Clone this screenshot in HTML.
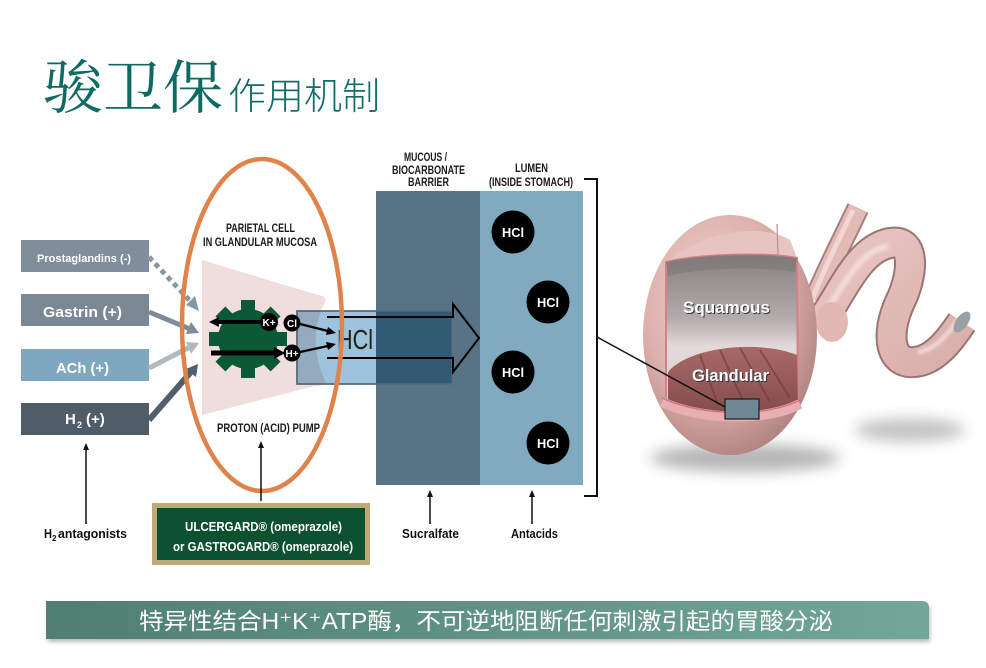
<!DOCTYPE html>
<html><head><meta charset="utf-8"><style>
html,body{margin:0;padding:0;background:#fff;}
svg{display:block;}
.c{font-family:"Liberation Sans",sans-serif;font-weight:bold;}
</style></head><body>
<svg width="986" height="668" viewBox="0 0 986 668" xmlns="http://www.w3.org/2000/svg">
<defs>
<radialGradient id="sb" cx="0.4" cy="0.35" r="0.68">
<stop offset="0" stop-color="#efd2ce"/><stop offset="0.6" stop-color="#ddb0ac"/><stop offset="1" stop-color="#b08482"/>
</radialGradient>
<linearGradient id="inner" x1="0" y1="0" x2="0" y2="1">
<stop offset="0" stop-color="#858080"/><stop offset="0.4" stop-color="#b3abab"/><stop offset="0.58" stop-color="#e2dada"/><stop offset="1" stop-color="#d6caca"/>
</linearGradient>
<linearGradient id="gl" x1="0" y1="0" x2="0" y2="1">
<stop offset="0" stop-color="#a86a68"/><stop offset="1" stop-color="#844c4c"/>
</linearGradient>
<linearGradient id="tube" x1="0" y1="0" x2="1" y2="1">
<stop offset="0" stop-color="#e9c6c2"/><stop offset="1" stop-color="#d9aeaa"/>
</linearGradient>
<linearGradient id="ban" x1="0" y1="0" x2="1" y2="0">
<stop offset="0" stop-color="#4f7f72"/><stop offset="1" stop-color="#72a797"/>
</linearGradient>
<filter id="bl" x="-50%" y="-50%" width="200%" height="200%"><feGaussianBlur stdDeviation="7"/></filter>
<filter id="bl3" x="-50%" y="-50%" width="200%" height="200%"><feGaussianBlur stdDeviation="1.5"/></filter>
<filter id="bl2" x="-10%" y="-50%" width="120%" height="200%"><feGaussianBlur stdDeviation="2"/></filter>
</defs>

<!-- Title -->
<text x="43" y="108" font-family="'Noto Serif CJK SC',serif" font-size="58" fill="#0f6a64" textLength="180" lengthAdjust="spacingAndGlyphs">骏卫保</text>
<text x="228" y="109" font-family="'Noto Sans CJK SC',sans-serif" font-weight="300" font-size="37" fill="#136d67" textLength="152" lengthAdjust="spacingAndGlyphs">作用机制</text>

<!-- Left boxes -->
<rect x="21" y="240" width="128" height="32" fill="#808e9c"/>
<text class="c" x="37" y="262" font-size="11" fill="#fff" textLength="94" lengthAdjust="spacingAndGlyphs">Prostaglandins (-)</text>
<rect x="21" y="294" width="128" height="32" fill="#7b8794"/>
<text class="c" x="43" y="317" font-size="15" fill="#fff" textLength="79" lengthAdjust="spacingAndGlyphs">Gastrin (+)</text>
<rect x="21" y="349" width="128" height="32" fill="#7fa7bf"/>
<text class="c" x="56" y="373" font-size="15" fill="#fff" textLength="53" lengthAdjust="spacingAndGlyphs">ACh (+)</text>
<rect x="21" y="403" width="128" height="32" fill="#4f5d69"/>
<text class="c" x="65" y="424" font-size="15" fill="#fff">H</text>
<text class="c" x="77" y="428" font-size="9" fill="#fff">2</text>
<text class="c" x="86" y="424" font-size="15" fill="#fff">(+)</text>

<!-- stimulation arrows -->
<line x1="149" y1="257" x2="191" y2="302" stroke="#8a96a2" stroke-width="5" stroke-dasharray="5,4"/>
<path d="M199,311 L186,305 L195,296 z" fill="#8a96a2"/>
<line x1="149" y1="312" x2="190" y2="329" stroke="#7e8a97" stroke-width="5"/>
<path d="M199,333 L186,334 L191,322 z" fill="#7e8a97"/>
<line x1="149" y1="368" x2="190" y2="347" stroke="#b0b9c0" stroke-width="5"/>
<path d="M199,343 L191,354 L186,342 z" fill="#b0b9c0"/>
<line x1="149" y1="420" x2="191" y2="372" stroke="#505f6b" stroke-width="6"/>
<path d="M198,364 L196,377 L186,369 z" fill="#505f6b"/>

<!-- pink cell -->
<path d="M202,260 L318,295 Q328,297 325,302 Q306,340 326,383 Q322,386 315,386 L202,415 Z" fill="#f0dede"/>

<!-- gear -->
<g transform="translate(248,339)" fill="#0c5a35">
<circle r="30"/>
<rect x="-7" y="-39" width="14" height="78"/>
<rect x="-7" y="-39" width="14" height="78" transform="rotate(45)"/>
<rect x="-7" y="-39" width="14" height="78" transform="rotate(90)"/>
<rect x="-7" y="-39" width="14" height="78" transform="rotate(135)"/>
</g>
<line x1="262" y1="322" x2="217" y2="322" stroke="#000" stroke-width="4"/>
<path d="M209,322 L219,317 L219,327 z" fill="#000"/>
<line x1="211" y1="353" x2="276" y2="353" stroke="#000" stroke-width="5"/>
<path d="M285,353 L274,347 L274,359 z" fill="#000"/>
<circle cx="269" cy="322" r="9" fill="#000"/>
<text class="c" x="269" y="326" font-size="10" fill="#fff" text-anchor="middle">K+</text>

<!-- HCl box (multiply) -->
<rect x="297" y="311" width="155" height="73" fill="#9dc3dc" stroke="#56697a" stroke-width="1.5" style="mix-blend-mode:multiply"/>

<!-- barrier & lumen -->
<rect x="376" y="191" width="104" height="294" fill="#587386"/>
<rect x="480" y="191" width="103" height="294" fill="#81a9bf"/>
<rect x="376" y="311" width="76" height="73" fill="#335a74"/>
<rect x="297" y="311" width="155" height="73" fill="none" stroke="#56697a" stroke-width="1.5"/>

<circle cx="292" cy="323" r="8.5" fill="#000"/>
<text class="c" x="292" y="327" font-size="10" fill="#fff" text-anchor="middle">Cl</text>
<circle cx="292" cy="353" r="8.5" fill="#000"/>
<text class="c" x="292" y="357" font-size="10" fill="#fff" text-anchor="middle">H+</text>
<line x1="300" y1="324" x2="328" y2="331" stroke="#000" stroke-width="2.2"/>
<path d="M336,333 L326,335 L328,327 z" fill="#000"/>
<line x1="300" y1="352" x2="328" y2="346" stroke="#000" stroke-width="2.2"/>
<path d="M336,344 L328,350 L326,342 z" fill="#000"/>
<text x="337" y="349" font-family="'Liberation Sans',sans-serif" font-size="28" fill="#22200f" textLength="36" lengthAdjust="spacingAndGlyphs">HCl</text>
<path d="M327,317 L453,317 L453,304 L479,338 L453,372 L453,358 L327,358" fill="none" stroke="#000" stroke-width="2"/>

<!-- orange ellipse -->
<ellipse cx="262" cy="325" rx="80" ry="166" fill="none" stroke="#e0834a" stroke-width="4.5"/>

<!-- cell labels -->
<text class="c" x="226" y="232" font-size="12" fill="#1a1a1a" textLength="69" lengthAdjust="spacingAndGlyphs">PARIETAL CELL</text>
<text class="c" x="203" y="246" font-size="12" fill="#1a1a1a" textLength="114" lengthAdjust="spacingAndGlyphs">IN GLANDULAR MUCOSA</text>
<text class="c" x="217" y="432" font-size="12" fill="#1a1a1a" textLength="103" lengthAdjust="spacingAndGlyphs">PROTON (ACID) PUMP</text>

<text class="c" x="404" y="161" font-size="12" fill="#1a1a1a" textLength="43" lengthAdjust="spacingAndGlyphs">MUCOUS /</text>
<text class="c" x="392" y="174" font-size="12" fill="#1a1a1a" textLength="73" lengthAdjust="spacingAndGlyphs">BIOCARBONATE</text>
<text class="c" x="408" y="186" font-size="12" fill="#1a1a1a" textLength="41" lengthAdjust="spacingAndGlyphs">BARRIER</text>
<text class="c" x="515" y="172" font-size="12" fill="#1a1a1a" textLength="33" lengthAdjust="spacingAndGlyphs">LUMEN</text>
<text class="c" x="489" y="186" font-size="12" fill="#1a1a1a" textLength="84" lengthAdjust="spacingAndGlyphs">(INSIDE STOMACH)</text>

<!-- lumen HCl circles -->
<g class="c" font-size="13" fill="#fff" text-anchor="middle">
<circle cx="513" cy="232" r="21.5" fill="#000"/><text x="513" y="237" textLength="22" lengthAdjust="spacingAndGlyphs">HCl</text>
<circle cx="548" cy="302" r="21.5" fill="#000"/><text x="548" y="307" textLength="22" lengthAdjust="spacingAndGlyphs">HCl</text>
<circle cx="513" cy="372" r="21.5" fill="#000"/><text x="513" y="377" textLength="22" lengthAdjust="spacingAndGlyphs">HCl</text>
<circle cx="548" cy="443" r="21.5" fill="#000"/><text x="548" y="448" textLength="22" lengthAdjust="spacingAndGlyphs">HCl</text>
</g>

<!-- bracket -->
<path d="M584,179 L597,179 L597,496 L584,496" fill="none" stroke="#111" stroke-width="2"/>

<!-- stomach shadows -->
<ellipse cx="745" cy="458" rx="95" ry="14" fill="#7a7a7a" opacity="0.55" filter="url(#bl)"/>
<ellipse cx="910" cy="430" rx="55" ry="12" fill="#8a8a8a" opacity="0.5" filter="url(#bl)"/>
<!-- esophagus -->
<path d="M815,300 C828,268 845,236 858,208" fill="none" stroke="#a88080" stroke-width="23"/>
<path d="M815,300 C828,268 845,236 858,208" fill="none" stroke="#e2bab6" stroke-width="19"/>
<path d="M812,300 C825,266 841,236 853,210" fill="none" stroke="#f1d6d2" stroke-width="5"/>
<!-- duodenum -->
<path d="M818,325 C840,300 855,250 890,243 C918,238 912,278 900,302 C885,335 890,365 915,362 C935,360 950,340 962,322" fill="none" stroke="#9c7474" stroke-width="32"/>
<path d="M818,325 C840,300 855,250 890,243 C918,238 912,278 900,302 C885,335 890,365 915,362 C935,360 950,340 962,322" fill="none" stroke="url(#tube)" stroke-width="28"/>
<path d="M826,310 C845,285 858,252 888,246" fill="none" stroke="#f3dcd8" stroke-width="6" filter="url(#bl3)"/>
<path d="M918,352 C935,350 947,335 958,320" fill="none" stroke="#f3dcd8" stroke-width="4" filter="url(#bl3)"/>
<ellipse cx="962" cy="322" rx="6" ry="12" transform="rotate(35 962 322)" fill="#9aa0a4"/>
<ellipse cx="832" cy="322" rx="16" ry="20" fill="#e2b8b4"/>
<!-- body -->
<ellipse cx="730" cy="335" rx="87" ry="120" fill="url(#sb)"/>
<path d="M668,262 C700,232 760,222 790,240 L797,258 C765,252 700,254 668,262 Z" fill="#e7c4c0"/>
<line x1="777" y1="224" x2="778" y2="256" stroke="#c98a90" stroke-width="1.2"/>
<path d="M666,262 C700,254 765,252 797,258 L798,405 C760,416 700,416 666,405 Z" fill="url(#inner)" stroke="#d57f88" stroke-width="2"/>
<path d="M666,262 C700,254 765,252 797,258 L795,272 C760,266 700,268 668,276 Z" fill="#7d7676" opacity="0.6"/>
<path d="M668,372 C690,346 760,340 797,355 L798,405 C760,416 700,416 668,405 Z" fill="url(#gl)"/>
<g stroke="#6e3a3a" stroke-width="2" opacity="0.6" fill="none">
<path d="M720,350 L745,405"/><path d="M740,348 L770,402"/><path d="M760,350 L790,398"/><path d="M700,355 L718,405"/>
</g>
<path d="M662,402 C700,420 765,422 800,404" fill="none" stroke="#e8aeb2" stroke-width="10"/>
<path d="M662,398 C700,416 765,418 800,400" fill="none" stroke="#d07580" stroke-width="1.5"/>

<line x1="597" y1="337" x2="727" y2="408" stroke="#111" stroke-width="1.5"/>
<rect x="725" y="399" width="34" height="20" fill="#6f8896" stroke="#1a1a1a" stroke-width="1.2"/>

<text class="c" x="684" y="314" font-size="17" fill="#333" textLength="87" lengthAdjust="spacingAndGlyphs">Squamous</text>
<text class="c" x="683" y="313" font-size="17" fill="#fff" textLength="87" lengthAdjust="spacingAndGlyphs">Squamous</text>
<text class="c" x="693" y="382" font-size="17" fill="#333" textLength="77" lengthAdjust="spacingAndGlyphs">Glandular</text>
<text class="c" x="692" y="381" font-size="17" fill="#fff" textLength="77" lengthAdjust="spacingAndGlyphs">Glandular</text>

<!-- bottom arrows -->
<g stroke="#111" stroke-width="1.5">
<line x1="86" y1="448" x2="86" y2="524"/>
<line x1="261" y1="446" x2="261" y2="501"/>
<line x1="430" y1="495" x2="430" y2="524"/>
<line x1="532" y1="495" x2="532" y2="524"/>
</g>
<g fill="#111">
<path d="M86,443 L83,450 L89,450 z"/>
<path d="M261,441 L258,448 L264,448 z"/>
<path d="M430,490 L427,497 L433,497 z"/>
<path d="M532,490 L529,497 L535,497 z"/>
</g>
<text class="c" x="44" y="538" font-size="13" fill="#111" textLength="8" lengthAdjust="spacingAndGlyphs">H</text>
<text class="c" x="52" y="541" font-size="8" fill="#111">2</text>
<text class="c" x="58" y="538" font-size="13" fill="#111" textLength="69" lengthAdjust="spacingAndGlyphs">antagonists</text>
<text class="c" x="402" y="538" font-size="13" fill="#111" textLength="57" lengthAdjust="spacingAndGlyphs">Sucralfate</text>
<text class="c" x="511" y="538" font-size="13" fill="#111" textLength="47" lengthAdjust="spacingAndGlyphs">Antacids</text>

<!-- Ulcergard box -->
<rect x="152" y="503" width="218" height="62" fill="#c0a878"/>
<rect x="157" y="508" width="208" height="52" fill="#0d5130"/>
<text class="c" x="185" y="531" font-size="13" fill="#fff" textLength="157" lengthAdjust="spacingAndGlyphs">ULCERGARD® (omeprazole)</text>
<text class="c" x="173" y="551" font-size="13" fill="#fff" textLength="180" lengthAdjust="spacingAndGlyphs">or GASTROGARD® (omeprazole)</text>

<!-- bottom banner -->
<rect x="48" y="606" width="882" height="36" fill="#777" opacity="0.5" filter="url(#bl2)"/>
<path d="M46,601 L922,601 Q929,601 929,608 L929,639 L46,639 Z" fill="url(#ban)"/>
<text x="139" y="629" font-family="'Liberation Sans','Noto Sans CJK SC',sans-serif" font-size="23" fill="#fff" textLength="694" lengthAdjust="spacingAndGlyphs">特异性结合H⁺K⁺ATP酶，不可逆地阻断任何刺激引起的胃酸分泌</text>
</svg>
</body></html>
